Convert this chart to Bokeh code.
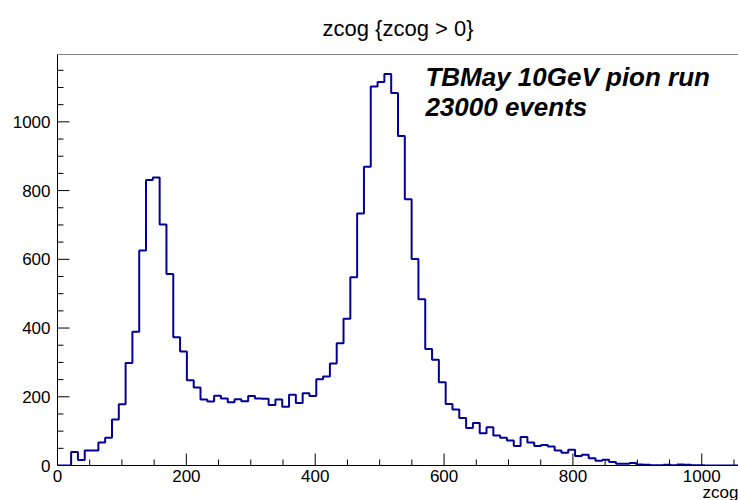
import numpy as np
from bokeh.plotting import figure
from bokeh.models import Range1d, SingleIntervalTicker, Label, Span, Title
from bokeh.embed import file_html
from bokeh.resources import INLINE

# ---- data ----
title_text = "zcog {zcog > 0}"
x_title = "zcog"
note_lines = ["TBMay 10GeV pion run", "23000 events"]

x_lo, x_hi = 0.0, 1057.0
n_bins = 100
y_hi = 1196.0

counts = [
    0, 0, 39, 16, 44, 44, 67, 81, 134, 178,
    298, 389, 626, 831, 838, 701, 557, 373, 332, 248,
    227, 192, 186, 203, 195, 184, 193, 187, 202, 195,
    194, 176, 192, 171, 206, 182, 210, 202, 251, 259,
    297, 356, 427, 548, 733, 869, 1103, 1116, 1139, 1084,
    959, 775, 601, 484, 339, 308, 242, 179, 163, 138,
    109, 124, 94, 111, 87, 81, 73, 57, 83, 67,
    57, 60, 55, 44, 37, 46, 28, 31, 21, 14,
    17, 10, 5, 5, 7, 3, 2, 1, 1, 2,
    1, 3, 2, 1, 1, 0, 0, 0, 0, 0,
]

major_step = 200
minor_step = 50

# ---- figure ----
FONT = "Liberation Sans"
FRAME_W, FRAME_H = 681, 411
p = figure(
    frame_width=FRAME_W, frame_height=FRAME_H,
    output_backend="svg", toolbar_location=None,
    x_range=Range1d(x_lo, x_hi), y_range=Range1d(0, y_hi),
    min_border_left=57, min_border_right=0, min_border_top=54, min_border_bottom=35,
)
p.outline_line_color = None
p.grid.visible = False
p.background_fill_color = "white"
p.border_fill_color = "white"

# title
p.title.text = title_text
p.title.align = "center"
p.title.text_font = FONT
p.title.text_font_size = "22px"
p.title.text_font_style = "normal"
p.title.text_color = "black"
p.title.standoff = 27

# x-axis title, right aligned at the axis end
xt = Title(text=x_title, align="right", text_font=FONT, text_font_size="17px",
           text_font_style="normal", text_color="black", standoff=0)
try:
    xt.standoff = -8
except Exception:
    pass
p.add_layout(xt, "below")

edges = np.linspace(x_lo, x_hi, n_bins + 1)
step_y = list(counts) + [counts[-1]]
p.step(x=edges, y=step_y, mode="after", line_color="#000099", line_width=2)

for ax in (p.xaxis[0], p.yaxis[0]):
    ax.ticker = SingleIntervalTicker(interval=major_step, num_minor_ticks=4)
    ax.axis_line_color = "black"
    ax.axis_line_width = 1
    ax.major_tick_in = 0
    ax.major_tick_out = 0
    ax.minor_tick_in = 0
    ax.minor_tick_out = 0
    ax.major_label_text_font = FONT
    ax.major_label_text_font_size = "17px"
    ax.major_label_text_color = "black"

p.xaxis.major_label_standoff = 4
p.yaxis.major_label_standoff = 7

# inward ticks (ROOT style): 12 px major, 6 px minor, converted to data units
px_x = (x_hi - x_lo) / FRAME_W
px_y = y_hi / FRAME_H
x_major = np.arange(x_lo, x_hi + 1, major_step)
x_minor = np.setdiff1d(np.arange(x_lo, x_hi + 1, minor_step), x_major)
y_major = np.arange(0, y_hi + 1, major_step)
y_minor = np.setdiff1d(np.arange(0, y_hi + 1, minor_step), y_major)

p.segment(x0=x_major, y0=0, x1=x_major, y1=12 * px_y, line_color="black", line_width=1)
p.segment(x0=x_minor, y0=0, x1=x_minor, y1=6 * px_y, line_color="black", line_width=1)
p.segment(x0=x_lo, y0=y_major, x1=x_lo + 12 * px_x, y1=y_major, line_color="black", line_width=1)
p.segment(x0=x_lo, y0=y_minor, x1=x_lo + 6 * px_x, y1=y_minor, line_color="black", line_width=1)

# top frame border
p.add_layout(Span(location=y_hi, dimension="width", line_color="black", line_width=1))

# annotation text
p.add_layout(Label(
    x=571, y=1131, text=note_lines[0],
    text_align="left", text_baseline="alphabetic",
    text_font=FONT, text_font_size="26px", text_font_style="bold italic", text_color="black",
))
p.add_layout(Label(
    x=571, y=1044, text=note_lines[1],
    text_align="left", text_baseline="alphabetic",
    text_font=FONT, text_font_size="26px", text_font_style="bold italic", text_color="black",
))

open("out.html", "w").write(file_html(p, INLINE))
